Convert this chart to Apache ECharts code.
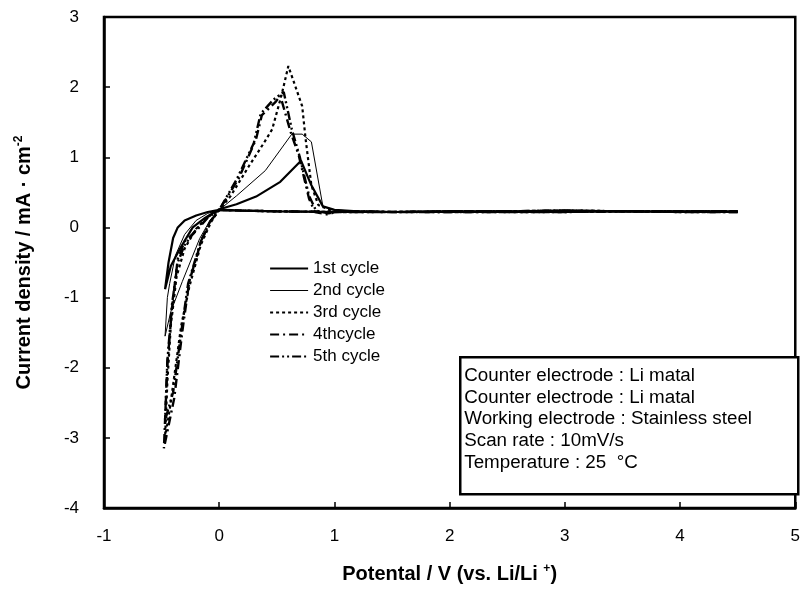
<!DOCTYPE html>
<html><head><meta charset="utf-8">
<script src="https://cdn.jsdelivr.net/npm/echarts@6/dist/echarts.min.js"></script>
<style>html,body{margin:0;padding:0;background:#fff}#c{width:803px;height:589px}</style>
</head><body><div id="c"></div>
<script>
const seriesNames = ['1st cycle','2nd cycle','3rd cycle','4thcycle','5th cycle'];
const xTicks = [-1,0,1,2,3,4,5];
const yTicks = [-4,-3,-2,-1,0,1,2,3];
const flatDown = [[4.5,0.22],[4.0,0.22],[3.5,0.23],[3.0,0.22],[2.5,0.22],[2.0,0.22],[1.5,0.22],[1.0,0.22],[0.5,0.23],[0.2,0.24]];
const flatUp = [[1.2,0.23],[1.5,0.22],[2.0,0.23],[2.5,0.23],[3.0,0.24],[3.5,0.23],[4.0,0.23],[4.5,0.23]];
const cycle1 = flatDown.concat([[0.0,0.25],[-0.1,0.22],[-0.2,0.17],[-0.3,0.1],[-0.36,0.0],[-0.4,-0.15],[-0.44,-0.5],[-0.47,-0.88],[-0.42,-0.55],[-0.34,-0.3],[-0.23,0.0],[-0.12,0.14],[0.0,0.26],[0.15,0.33],[0.32,0.44],[0.53,0.65],[0.71,0.95],[0.8,0.6],[0.9,0.3],[1.0,0.25]], flatUp);
const cycle2 = flatDown.concat([[0.0,0.25],[-0.1,0.2],[-0.2,0.1],[-0.3,-0.1],[-0.38,-0.4],[-0.43,-0.8],[-0.45,-1.0],[-0.47,-1.55],[-0.42,-1.2],[-0.32,-0.77],[-0.17,-0.16],[-0.08,0.1],[0.0,0.25],[0.15,0.45],[0.4,0.81],[0.63,1.33],[0.72,1.33],[0.8,1.22],[0.9,0.3],[1.0,0.25]], flatUp);
const cycle3 = flatDown.concat([[0.0,0.25],[-0.1,0.15],[-0.2,-0.02],[-0.3,-0.3],[-0.37,-0.7],[-0.42,-1.4],[-0.45,-2.2],[-0.47,-3.0],[-0.43,-2.6],[-0.38,-2.0],[-0.33,-1.4],[-0.26,-0.85],[-0.16,-0.25],[-0.07,0.08],[0.0,0.25],[0.1,0.45],[0.26,0.88],[0.39,1.21],[0.46,1.4],[0.54,1.88],[0.6,2.3],[0.72,1.73],[0.75,1.26],[0.8,0.6],[0.86,0.32],[1.0,0.22]], flatUp);
const cycle4 = flatDown.concat([[0.0,0.25],[-0.1,0.14],[-0.2,-0.05],[-0.3,-0.2],[-0.36,-0.45],[-0.41,-1.15],[-0.45,-1.95],[-0.48,-3.15],[-0.39,-2.43],[-0.32,-1.48],[-0.26,-0.77],[-0.15,-0.16],[-0.07,0.1],[0.0,0.25],[0.17,0.7],[0.32,1.26],[0.37,1.6],[0.49,1.79],[0.53,1.88],[0.62,1.36],[0.69,1.03],[0.78,0.41],[0.83,0.22],[0.95,0.18],[1.0,0.22]], flatUp);
const cycle5 = flatDown.concat([[0.0,0.25],[-0.1,0.15],[-0.2,-0.03],[-0.3,-0.25],[-0.36,-0.5],[-0.41,-1.1],[-0.45,-1.9],[-0.47,-2.75],[-0.4,-2.35],[-0.33,-1.5],[-0.27,-0.8],[-0.16,-0.2],[-0.08,0.08],[0.0,0.25],[0.15,0.68],[0.3,1.2],[0.36,1.62],[0.47,1.82],[0.56,1.93],[0.63,1.4],[0.7,1.0],[0.78,0.45],[0.84,0.24],[0.95,0.2],[1.0,0.22]], flatUp);
const infoLines = ['Counter electrode : Li matal','Counter electrode : Li matal','Working electrode : Stainless steel','Scan rate : 10mV/s','Temperature : 25  °C'];

const styles = [
  {width:2.2, type:'solid'},
  {width:1, type:'solid'},
  {width:2.2, type:[3,3]},
  {width:2.4, type:[9,4,2,4]},
  {width:2.4, type:[9,3,2,3,2,3]}
];
const datas = [cycle1,cycle2,cycle3,cycle4,cycle5];
const chart = echarts.init(document.getElementById('c'));
const F = 'Liberation Sans, Arial, sans-serif';
chart.setOption({
  animation:false,
  backgroundColor:'#fff',
  grid:{left:104,right:3,top:17,bottom:78,show:true,borderColor:'#000',borderWidth:2.5,backgroundColor:'transparent'},
  xAxis:{type:'value',min:-1,max:5,interval:1,
    axisLine:{onZero:false,lineStyle:{color:'#000',width:2.5}},
    axisTick:{inside:true,length:6,lineStyle:{color:'#000',width:1.5}},
    splitLine:{show:false},
    axisLabel:{color:'#000',fontSize:17,fontFamily:F,margin:20},
    name:'{a|Potental / V (vs. Li/Li }{s|+}{a|)}',nameLocation:'middle',nameGap:55,
    nameTextStyle:{rich:{a:{fontSize:20,fontWeight:'bold',fontFamily:F,color:'#000'},s:{fontSize:12,fontWeight:'bold',fontFamily:F,color:'#000',padding:[0,0,10,0]}}}
  },
  yAxis:{type:'value',min:-4,max:3,interval:1,
    axisLine:{onZero:false,lineStyle:{color:'#000',width:2.5}},
    axisTick:{inside:true,length:6,lineStyle:{color:'#000',width:1.5}},
    splitLine:{show:false},
    axisLabel:{color:'#000',fontSize:17,fontFamily:F,margin:25},
    name:'{a|Current density / mA · cm}{s|-2}',nameLocation:'middle',nameGap:69,
    nameTextStyle:{rich:{a:{fontSize:20,fontWeight:'bold',fontFamily:F,color:'#000'},s:{fontSize:12,fontWeight:'bold',fontFamily:F,color:'#000',padding:[0,0,10,0]}}}
  },
  legend:{orient:'vertical',left:264,top:255,itemWidth:38,itemHeight:14,itemGap:5,
    itemStyle:{opacity:0},
    textStyle:{color:'#000',fontSize:17,fontFamily:F},
    data:seriesNames.map((n,i)=>({name:n,lineStyle:{color:'#000',width:i===1?1:2.2,type:styles[i].type}}))},
  series:datas.map((d,i)=>({name:seriesNames[i],type:'line',data:d,showSymbol:false,symbol:'none',
    lineStyle:{color:'#000',width:styles[i].width,type:styles[i].type},itemStyle:{color:'#000'},z:5-i})),
  graphic:[{type:'group',left:459,top:356,children:[
    {type:'rect',shape:{x:0,y:0,width:338,height:137},style:{fill:'#fff',stroke:'#000',lineWidth:2.5}},
    ...infoLines.map((t,i)=>({type:'text',x:4,y:9+i*21.7,style:{text:t,fontSize:18.8,fontFamily:F,fill:'#000'}}))
  ]}]
});
</script></body></html>
